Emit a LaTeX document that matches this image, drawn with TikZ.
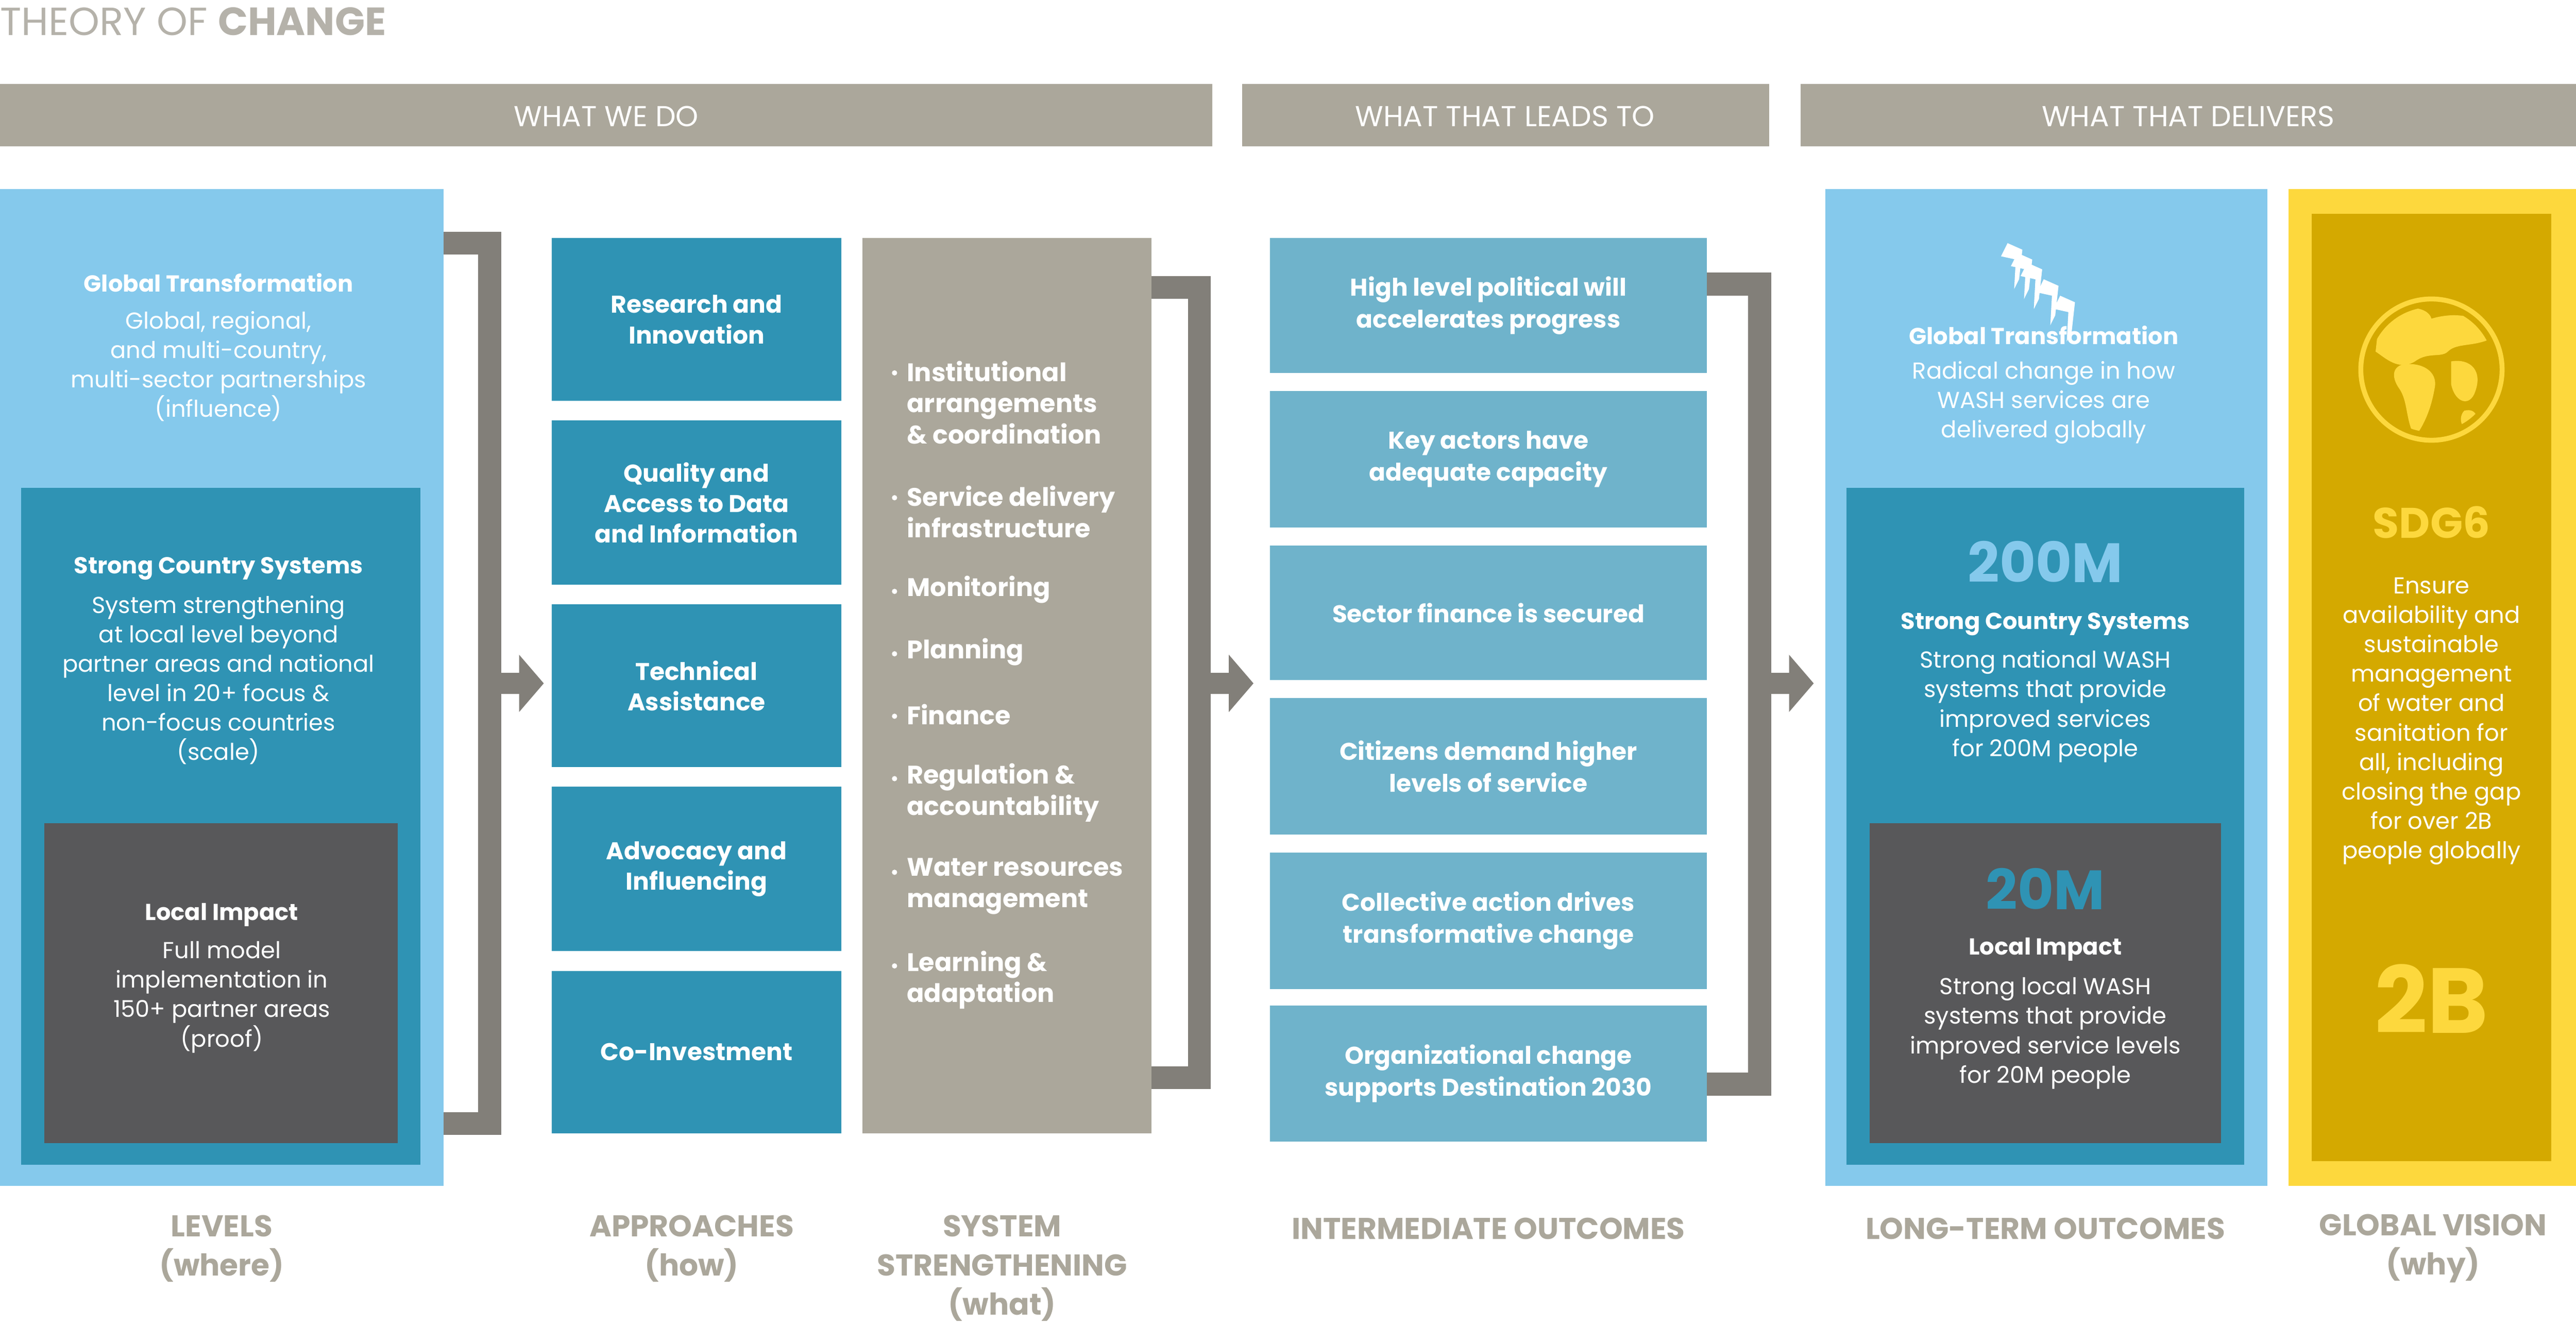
\documentclass[tikz,border=0pt]{standalone}
\usepackage{fontspec}
\setmainfont{Poppins}
\usetikzlibrary{arrows.meta}
\definecolor{lb}{HTML}{85C9EC}
\definecolor{mb}{HTML}{2F93B4}
\definecolor{dg}{HTML}{58585A}
\definecolor{tan}{HTML}{ABA79B}
\definecolor{ag}{HTML}{827F79}
\definecolor{ib}{HTML}{6FB3CB}
\definecolor{yel}{HTML}{FDD83D}
\definecolor{gold}{HTML}{D4A900}
\definecolor{ttl}{HTML}{B5B2AA}
\tikzset{
 box/.style={draw=none,inner sep=0,outer sep=0},
 hd/.style={text=white,font=\fontsize{50}{60}\selectfont},
 tb/.style={text=white,font=\fontsize{40}{51}\selectfont\bfseries,align=center,inner sep=0},
 tr/.style={text=white,font=\fontsize{40}{51}\selectfont,align=center,inner sep=0},
 bl/.style={text=tan,font=\fontsize{52}{68}\selectfont\bfseries,align=center,inner sep=0},
 brk/.style={draw=ag,line width=14mm,line join=miter},
 arr/.style={draw=ag,line width=13mm,-{Triangle[width=34mm,length=15mm]}},
}
\begin{document}
\begin{tikzpicture}[x=1mm,y=-1mm]
\useasboundingbox (0,0) rectangle (1568,807);
\fill[white] (0,0) rectangle (1568,807);
\node[anchor=west,inner sep=0,text=ttl,font=\fontsize{68}{80}\selectfont] (title) at (0,13) {THEORY OF \textbf{CHANGE}};
% header bars
\fill[tan] (0,51) rectangle (738,89);
\fill[tan] (756,51) rectangle (1077,89);
\fill[tan] (1096,51) rectangle (1568,89);
\node[hd] (h1) at (369,71) {WHAT WE DO};
\node[hd] (h2) at (916,71) {WHAT THAT LEADS TO};
\node[hd] (h3) at (1332,71) {WHAT THAT DELIVERS};
% brackets
\coordinate (b1a) at (270,148); \coordinate (b1b) at (298,148); \coordinate (b1c) at (298,684); \coordinate (b1d) at (270,684);
\coordinate (b1m) at (298,416); \coordinate (b1t) at (331,416);
\draw[brk] (b1a) -- (b1b) -- (b1c) -- (b1d);
\draw[arr] (b1m) -- (b1t);
\coordinate (b2a) at (700,175); \coordinate (b2b) at (730,175); \coordinate (b2c) at (730,656); \coordinate (b2d) at (700,656);
\coordinate (b2m) at (730,416); \coordinate (b2t) at (763,416);
\draw[brk] (b2a) -- (b2b) -- (b2c) -- (b2d);
\draw[arr] (b2m) -- (b2t);
\coordinate (b3a) at (1038,173); \coordinate (b3b) at (1071,173); \coordinate (b3c) at (1071,660); \coordinate (b3d) at (1038,660);
\coordinate (b3m) at (1071,416); \coordinate (b3t) at (1104,416);
\draw[brk] (b3a) -- (b3b) -- (b3c) -- (b3d);
\draw[arr] (b3m) -- (b3t);
% levels
\fill[lb] (0,115) rectangle (270,722);
\fill[mb] (13,297) rectangle (256,709);
\fill[dg] (27,501) rectangle (242,696);
\node[tb] (lv1) at (133,172) {Global Transformation};
\node[tr] (lv1b) at (133,223) {Global, regional,\\and multi-country,\\multi-sector partnerships\\(influence)};
\node[tb] (lv2) at (133,346) {Strong Country Systems};
\node[tr] (lv2b) at (133,414) {System strengthening\\at local level beyond\\partner areas and national\\level in 20+ focus \&\\non-focus countries\\(scale)};
\node[tb] (lv3) at (135,557) {Local Impact};
\node[tr] (lv3b) at (135,607) {Full model\\implementation in\\150+ partner areas\\(proof)};
% approaches
\foreach \n/\a/\b/\t in {ap1/145/244/{Research and\\Innovation},ap2/256/356/{Quality and\\Access to Data\\and Information},ap3/368/467/{Technical\\Assistance},ap4/479/579/{Advocacy and\\Influencing},ap5/591/690/{Co-Investment}}{
 \fill[mb] (336,\a) rectangle (512,\b);
 \node[tb,font=\fontsize{42}{53}\selectfont\bfseries] (\n) at (424,{(\a+\b)/2}) {\t};
}
% system strengthening
\fill[tan] (525,145) rectangle (701,690);
\foreach \n/\y/\t in {s1/245/{Institutional\\arrangements\\\& coordination},s2/311.5/{Service delivery\\infrastructure},s3/359/{Monitoring},s4/397/{Planning},s5/435/{Finance},s6/482.5/{Regulation \&\\accountability},s7/539.5/{Water resources\\management},s8/596.5/{Learning \&\\adaptation}}{
 \node[anchor=west,text=white,font=\fontsize{44}{54}\selectfont\bfseries,align=left,inner sep=0] (\n) at (552,\y) {\t};
}
\foreach \y in {226,302,359,397,435,473,530,587}{\fill[white] (544.5,\y+1) circle (1.6);}
% intermediate
\foreach \n/\a/\b/\t in {io1/145/227/{High level political will\\accelerates progress},io2/238/321/{Key actors have\\adequate capacity},io3/332/414/{Sector finance is secured},io4/425/508/{Citizens demand higher\\levels of service},io5/519/602/{Collective action drives\\transformative change},io6/612/695/{Organizational change\\supports Destination 2030}}{
 \fill[ib] (773,\a) rectangle (1039,\b);
 \node[tb,font=\fontsize{42}{55}\selectfont\bfseries] (\n) at (906,{(\a+\b)/2}) {\t};
}
% long-term
\fill[lb] (1111,115) rectangle (1380,722);
\fill[mb] (1124,297) rectangle (1366,709);
\fill[dg] (1138,501) rectangle (1352,696);
\foreach \dx/\dy in {0,0,10,-6,20,-12}{
 \fill[white,shift={(1230+\dx,168+\dy)}] (0,0) -- (4,-8) -- (13,-4) -- (11,14) -- (8,20) -- (9,2) -- cycle;
}
\node[tb] (lt1) at (1244,204) {Global Transformation};
\node[tr] (lt1b) at (1244,245) {Radical change in how\\WASH services are\\delivered globally};
\node[text=lb,font=\fontsize{96}{110}\selectfont\bfseries,inner sep=0] (m200) at (1245,342) {200M};
\node[tb] (lt2) at (1245,380) {Strong Country Systems};
\node[tr] (lt2b) at (1245,430) {Strong national WASH\\systems that provide\\improved services\\for 200M people};
\node[text=mb,font=\fontsize{96}{110}\selectfont\bfseries,inner sep=0] (m20) at (1245,541) {20M};
\node[tb] (lt3) at (1245,578) {Local Impact};
\node[tr] (lt3b) at (1245,629) {Strong local WASH\\systems that provide\\improved service levels\\for 20M people};
% global vision
\fill[yel] (1393,115) rectangle (1568,722);
\fill[gold] (1407,130) rectangle (1553,707);
\draw[yel,line width=3mm] (1480,225) circle (43);
\begin{scope}
\clip (1480,225) circle (38);
\fill[yel] (1448,196) .. controls (1460,184) and (1478,186) .. (1480,194) .. controls (1500,188) and (1515,196) .. (1520,204) .. controls (1508,212) and (1496,208) .. (1490,214) .. controls (1486,218) and (1478,214) .. (1470,220) .. controls (1460,226) and (1452,218) .. (1446,214) -- cycle;
\fill[yel] (1462,222) .. controls (1474,220) and (1484,226) .. (1482,236) .. controls (1480,248) and (1476,258) .. (1470,266) .. controls (1464,256) and (1466,244) .. (1460,236) .. controls (1456,230) and (1456,224) .. (1462,222) -- cycle;
\fill[yel] (1492,220) .. controls (1504,218) and (1512,226) .. (1506,240) .. controls (1502,248) and (1494,244) .. (1492,234) -- cycle;
\fill[yel] (1500,250) .. controls (1508,248) and (1510,256) .. (1504,262) .. controls (1498,262) and (1496,254) .. (1500,250) -- cycle;
\end{scope}
\node[text=yel,font=\fontsize{74}{84}\selectfont\bfseries,inner sep=0] (sdg) at (1480,318) {SDG6};
\node[tr] (gvb) at (1480,439) {Ensure\\availability and\\sustainable\\management\\of water and\\sanitation for\\all, including\\closing the gap\\for over 2B\\people globally};
\node[text=yel,font=\fontsize{160}{170}\selectfont\bfseries,inner sep=0] (b2) at (1480,608) {2B};
% bottom labels
\node[bl] (l1) at (135,760) {LEVELS\\(where)};
\node[bl] (l2) at (421,760) {APPROACHES\\(how)};
\node[bl] (l3) at (610,772) {SYSTEM\\STRENGTHENING\\(what)};
\node[bl] (l4) at (906,748) {INTERMEDIATE OUTCOMES};
\node[bl] (l5) at (1245,748) {LONG-TERM OUTCOMES};
\node[bl] (l6) at (1481,760) {GLOBAL VISION\\(why)};
\end{tikzpicture}
\end{document}
